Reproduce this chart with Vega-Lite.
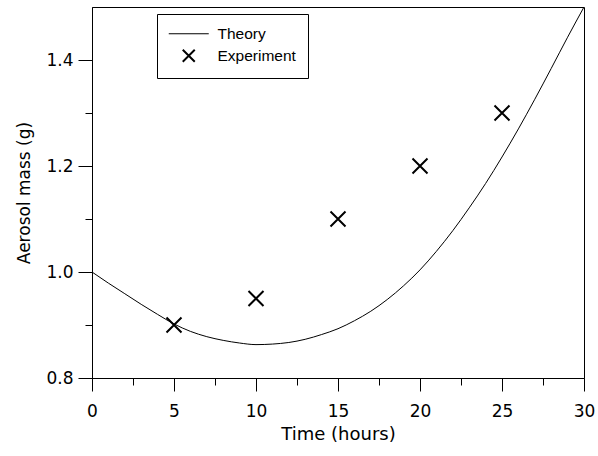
{
  "$schema": "https://vega.github.io/schema/vega-lite/v6.json",
  "width": 492,
  "height": 371,
  "autosize": {"type": "none"},
  "padding": {"left": 92, "top": 7, "right": 14, "bottom": 78},
  "background": "white",
  "config": {
    "view": {"stroke": "black", "strokeWidth": 1},
    "font": "DejaVu Sans"
  },
  "datasets": {
    "theory": [
      {"t": 0, "mass": 1.0}, {"t": 1, "mass": 0.979}, {"t": 2, "mass": 0.959},
      {"t": 3, "mass": 0.939}, {"t": 4, "mass": 0.920}, {"t": 5, "mass": 0.902},
      {"t": 6, "mass": 0.888}, {"t": 7, "mass": 0.878}, {"t": 8, "mass": 0.871},
      {"t": 9, "mass": 0.866}, {"t": 10, "mass": 0.863}, {"t": 11, "mass": 0.864},
      {"t": 12, "mass": 0.867}, {"t": 13, "mass": 0.873}, {"t": 14, "mass": 0.882},
      {"t": 15, "mass": 0.893}, {"t": 16, "mass": 0.908}, {"t": 17, "mass": 0.926},
      {"t": 18, "mass": 0.948}, {"t": 19, "mass": 0.974}, {"t": 20, "mass": 1.004},
      {"t": 21, "mass": 1.039}, {"t": 22, "mass": 1.078}, {"t": 23, "mass": 1.121},
      {"t": 24, "mass": 1.167}, {"t": 25, "mass": 1.217}, {"t": 26, "mass": 1.270},
      {"t": 27, "mass": 1.326}, {"t": 28, "mass": 1.384}, {"t": 29, "mass": 1.443},
      {"t": 30, "mass": 1.5}
    ],
    "experiment": [
      {"t": 5, "mass": 0.9}, {"t": 10, "mass": 0.95}, {"t": 15, "mass": 1.1},
      {"t": 20, "mass": 1.2}, {"t": 25, "mass": 1.3}
    ]
  },
  "resolve": {"axis": {"x": "independent", "y": "independent"}},
  "layer": [
    {
      "data": {"name": "theory"},
      "mark": {"type": "line", "strokeWidth": 1, "interpolate": "monotone", "clip": true},
      "encoding": {
        "x": {
          "field": "t", "type": "quantitative",
          "scale": {"domain": [0, 30], "nice": false},
          "axis": {
            "orient": "bottom",
            "title": "Time (hours)",
            "values": [0, 5, 10, 15, 20, 25, 30],
            "format": "d",
            "tickSize": 13,
            "grid": false,
            "domainColor": "black", "tickColor": "black", "labelColor": "black", "titleColor": "black",
            "labelFontSize": 17, "titleFontSize": 18, "titleFontWeight": "normal",
            "labelPadding": 12, "titlePadding": 6,
            "labelFlush": false, "labelOverlap": false
          }
        },
        "y": {
          "field": "mass", "type": "quantitative",
          "scale": {"domain": [0.8, 1.5], "nice": false, "zero": false},
          "axis": {
            "orient": "left",
            "title": "Aerosol mass (g)",
            "values": [0.8, 1.0, 1.2, 1.4],
            "format": ".1f",
            "tickSize": 14,
            "grid": false,
            "domainColor": "black", "tickColor": "black", "labelColor": "black", "titleColor": "black",
            "labelFontSize": 17, "titleFontSize": 17, "titleFontWeight": "normal",
            "labelPadding": 5, "titlePadding": 12,
            "labelFlush": false, "labelOverlap": false
          }
        },
        "color": {
          "datum": "Theory", "type": "nominal",
          "scale": {"domain": ["Theory", "Experiment"], "range": ["black", "black"]},
          "legend": {
            "title": null,
            "orient": "none", "legendX": 65, "legendY": 7,
            "strokeColor": "black", "fillColor": "white",
            "padding": 12,
            "symbolSize": 1600, "symbolStrokeWidth": 1,
            "symbolOffset": 12,
            "labelFont": "Liberation Sans",
            "labelFontSize": 15.5, "labelColor": "black", "labelOffset": 21,
            "labelExpr": "datum.label + '\u00a0\u00a0\u00a0\u00a0\u00a0\u00a0'",
            "rowPadding": 2,
            "encode": {
              "symbols": {
                "update": {
                  "shape": {"signal": "datum.value === 'Theory' ? 'M-1,0L1,0' : 'M-0.3,-0.3L0.3,0.3M-0.3,0.3L0.3,-0.3'"},
                  "size": {"value": 1600},
                  "strokeWidth": {"signal": "datum.value === 'Theory' ? 1 : 2"},
                  "stroke": {"value": "black"},
                  "fill": {"value": "transparent"},
                  "opacity": {"value": 1}
                }
              }
            }
          }
        }
      }
    },
    {
      "data": {"name": "experiment"},
      "mark": {"type": "point", "shape": "M-1,-1L1,1M-1,1L1,-1", "size": 225, "strokeWidth": 2, "filled": false, "opacity": 1},
      "encoding": {
        "x": {
          "field": "t", "type": "quantitative",
          "axis": {
            "orient": "bottom",
            "title": null,
            "values": [2.5, 7.5, 12.5, 17.5, 22.5, 27.5],
            "labels": false, "domain": false, "grid": false,
            "tickSize": 7, "tickColor": "black"
          }
        },
        "y": {
          "field": "mass", "type": "quantitative",
          "axis": {
            "orient": "left",
            "title": null,
            "values": [0.9, 1.1, 1.3],
            "labels": false, "domain": false, "grid": false,
            "tickSize": 7, "tickColor": "black"
          }
        },
        "color": {"datum": "Experiment", "type": "nominal"}
      }
    }
  ]
}
